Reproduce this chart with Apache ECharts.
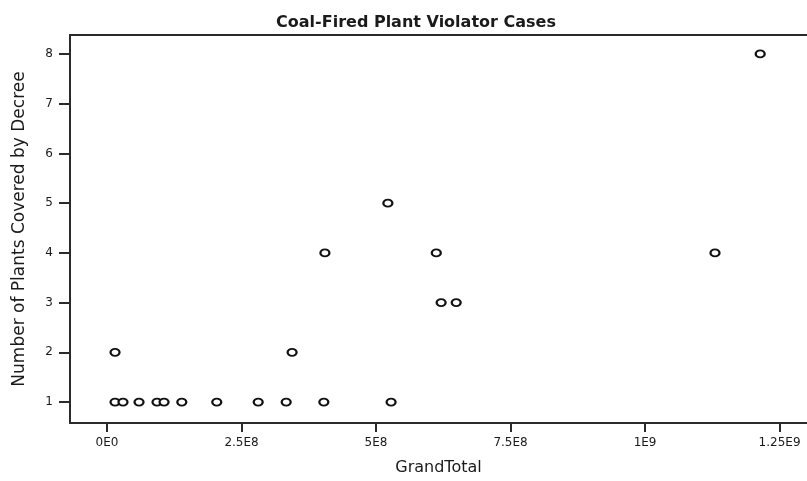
<!DOCTYPE html>
<html>
<head>
    <meta charset="utf-8">
    <title>Coal-Fired Plant Violator Cases</title>
    <script src="https://cdn.jsdelivr.net/npm/echarts@6/dist/echarts.min.js"></script>
    <style>
        html, body { margin: 0; padding: 0; background: #fff; }
        #chart1 { width: 807px; height: 481px; }
    </style>
</head>
<body>
<div id="chart1"></div>
<script>
    // GrandTotal and plants covered
    var grandTotal = [1.49e7, 2.97e7, 5.95e7, 9.29e7, 1.06e8, 1.39e8, 2.04e8, 2.81e8, 3.33e8, 4.03e8, 5.28e8,
        1.49e7, 3.44e8, 6.21e8, 6.49e8, 4.05e8, 6.12e8, 1.13e9, 5.22e8, 1.214e9];
    var plantsCovered = [1, 1, 1, 1, 1, 1, 1, 1, 1, 1, 1,
        2, 2, 3, 3, 4, 4, 4, 5, 8];
    var xTicks = [0, 2.5e8, 5e8, 7.5e8, 1e9, 1.25e9];
    var xTickLabels = ['0E0', '2.5E8', '5E8', '7.5E8', '1E9', '1.25E9'];
    var yTicks = [1, 2, 3, 4, 5, 6, 7, 8];

    var points = grandTotal.map(function (v, i) { return [v, plantsCovered[i]]; });
    var font = 'DejaVu Sans, Verdana, sans-serif';
    var axisColor = '#2a2a2a';

    var myChart1 = echarts.init(document.getElementById('chart1'));
    myChart1.setOption({
        animation: false,
        title: {
            text: 'Coal-Fired Plant Violator Cases',
            left: 411, top: 10, textAlign: 'center',
            textStyle: { fontFamily: font, fontSize: 16, fontWeight: 'bold', color: '#1a1a1a' }
        },
        grid: { left: 70, top: 35, right: 0, bottom: 54 },
        xAxis: [{
            type: 'value',
            min: -0.688e8, max: 1.301e9,
            name: 'GrandTotal', nameLocation: 'middle', nameGap: 37,
            nameTextStyle: { fontFamily: font, fontSize: 16, color: '#1a1a1a' },
            splitLine: { show: false },
            axisLine: { onZero: false, lineStyle: { color: axisColor, width: 2 } },
            axisTick: { customValues: xTicks, length: 9, lineStyle: { color: axisColor, width: 2 } },
            axisLabel: {
                customValues: xTicks, fontFamily: font, fontSize: 12, color: '#1a1a1a', margin: 14,
                formatter: function (v) { return xTickLabels[xTicks.indexOf(v)]; }
            }
        }, {
            type: 'value', position: 'top',
            min: -0.688e8, max: 1.301e9,
            splitLine: { show: false },
            axisLine: { onZero: false, lineStyle: { color: axisColor, width: 2 } },
            axisTick: { show: false },
            axisLabel: { show: false }
        }],
        yAxis: {
            type: 'value',
            min: 0.58, max: 8.38,
            name: 'Number of Plants Covered by Decree', nameLocation: 'middle', nameGap: 42,
            nameTextStyle: { fontFamily: font, fontSize: 17, color: '#1a1a1a' },
            splitLine: { show: false },
            axisLine: { onZero: false, lineStyle: { color: axisColor, width: 2 } },
            axisTick: { customValues: yTicks, length: 11, lineStyle: { color: axisColor, width: 2 } },
            axisLabel: { customValues: yTicks, fontFamily: font, fontSize: 12, color: '#1a1a1a', margin: 17 }
        },
        series: [{
            type: 'scatter',
            data: points,
            symbol: 'circle',
            symbolSize: [9, 7],
            itemStyle: { color: '#fff', borderColor: '#111', borderWidth: 2, opacity: 1 }
        }]
    });
</script>
</body>
</html>
